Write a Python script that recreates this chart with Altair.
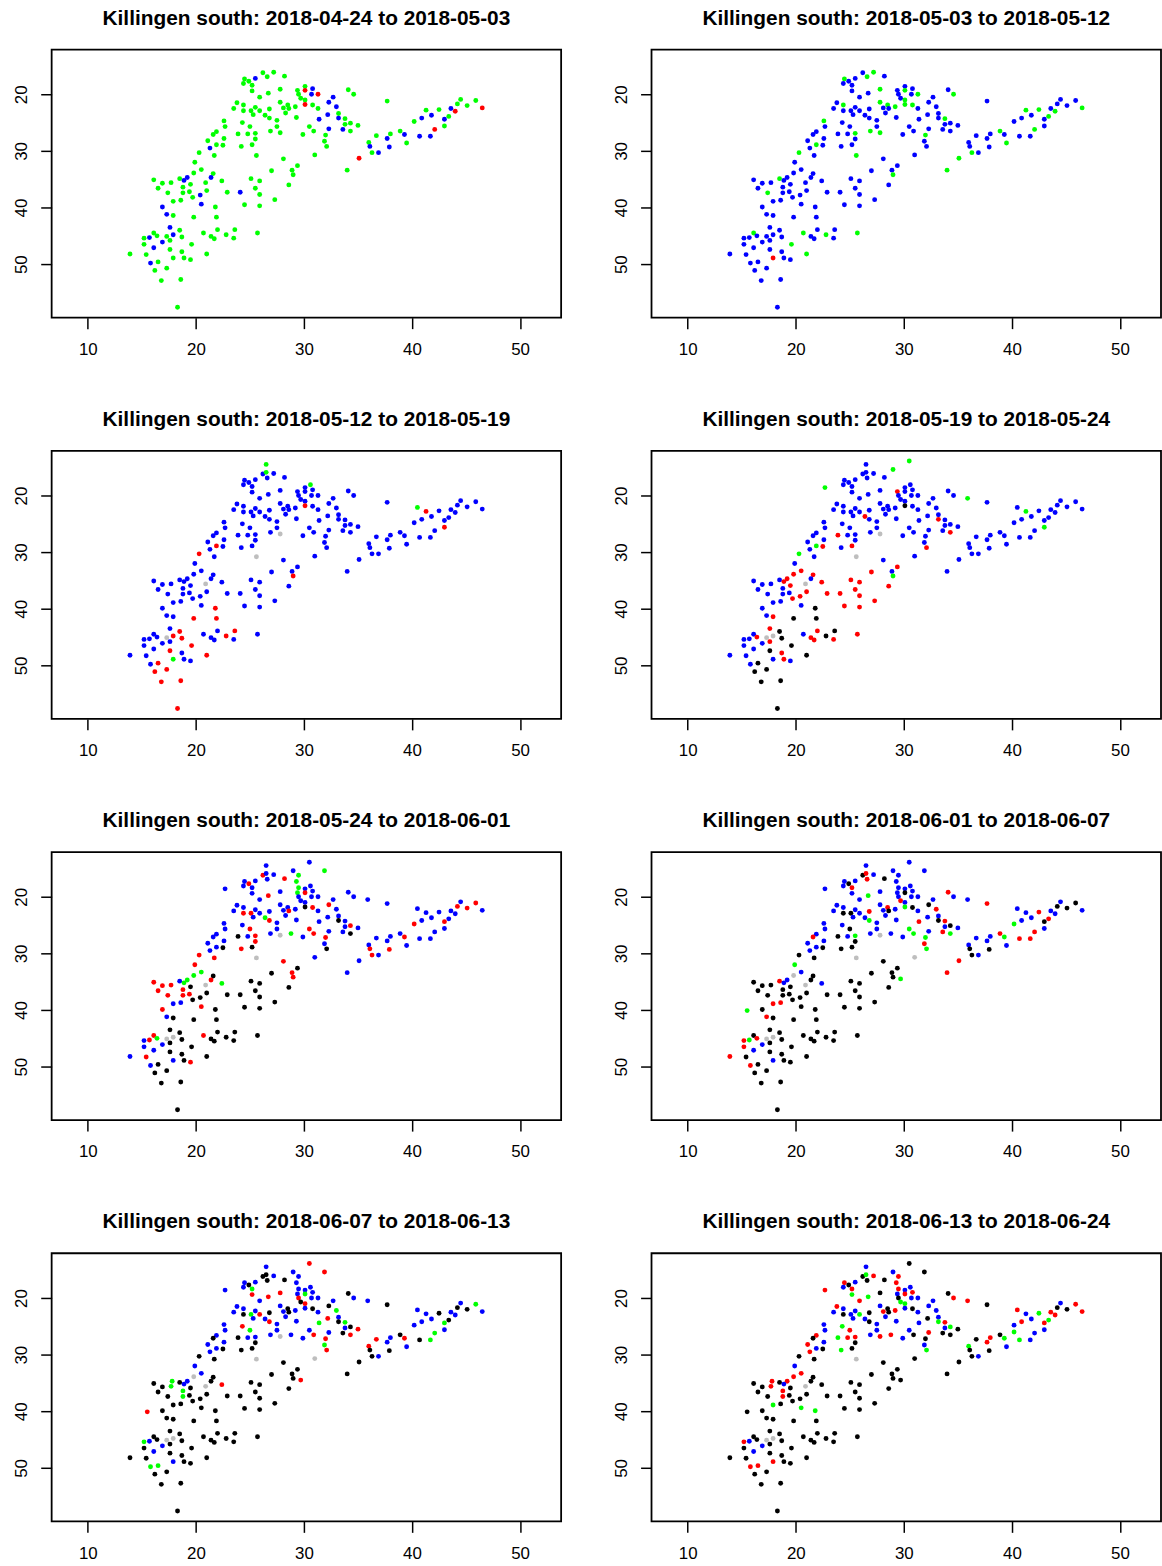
import altair as alt
import pandas as pd

# Point positions (x = column position, y = row position), union of all dates
X = [
    26.2, 27.2, 28.2, 24.5, 25.5, 26.6, 24.9, 24.4, 25.2, 25.2,
    27.8, 26.7, 25.9, 29.4, 30.1, 30.1, 30.8, 29.5, 29.7, 30.7,
    31.3, 34.1, 34.6, 32.7, 30.1, 27.8, 32.3, 23.8, 24.4, 28.5,
    29.2, 30.1, 30.8, 28.1, 28.6, 23.5, 24.4, 25.1, 25.5, 25.9,
    25.3, 26.8, 31.3, 33.0, 28.3, 26.4, 26.8, 29.3, 32.2, 33.2,
    33.2, 33.8, 31.4, 27.5, 22.6, 24.3, 25.0, 22.7, 27.5, 30.5,
    33.8, 34.3, 35.0, 32.3, 33.6, 34.3, 30.9, 21.9, 21.6, 23.9,
    24.8, 25.5, 26.9, 27.8, 29.9, 32.0, 22.6, 25.5, 21.1, 21.9,
    22.5, 24.2, 25.2, 21.3, 31.9, 32.1, 20.3, 21.7, 25.6, 31.0,
    28.1, 35.1, 34.0, 29.4, 28.9, 29.0, 27.0, 28.6, 19.9, 20.5,
    19.8, 21.6, 21.4, 19.2, 18.5, 18.9, 16.1, 16.9, 17.7, 19.5,
    20.9, 22.4, 25.1, 25.9, 16.5, 18.8, 17.4, 18.8, 19.4, 21.0,
    22.9, 24.1, 25.5, 25.9, 19.7, 20.4, 17.9, 18.6, 27.3, 20.5,
    24.5, 25.9, 16.9, 21.8, 17.3, 17.9, 19.8, 21.9, 17.6, 18.5,
    22.0, 23.6, 16.1, 20.7, 22.8, 25.7, 15.2, 15.7, 16.4, 17.3,
    17.9, 18.7, 21.4, 21.7, 23.5, 17.6, 16.9, 15.2, 19.6, 16.1,
    17.6, 13.9, 15.4, 18.7, 21.0, 17.9, 18.9, 19.5, 15.8, 16.5,
    17.3, 16.2, 16.8, 18.6, 18.3, 37.7, 41.3, 42.5, 43.6, 44.5,
    44.2, 45.1, 45.9, 46.5, 44.0, 43.4, 43.0, 41.8, 40.9, 40.2,
    43.0, 42.1, 38.9, 38.0, 37.7, 39.3, 40.7, 41.7, 36.7, 36.0,
    36.1, 37.9, 39.5, 36.3, 36.9,
    26.5, 26.5, 30.6, 30.5, 31.9, 29.0, 29.5, 29.3, 22.7, 35.9,
    40.5, 29.5, 15.5, 29.7, 17.8, 28.8, 40.2,
]
Y = [
    16.2, 16.1, 16.8, 17.3, 17.2, 16.9, 17.7, 18.1, 18.4, 19.4,
    19.1, 19.8, 20.5, 19.3, 18.6, 19.3, 19.0, 20.0, 20.7, 20.0,
    20.0, 19.2, 20.0, 20.5, 21.0, 21.4, 21.4, 21.5, 21.9, 21.9,
    22.2, 21.8, 21.9, 22.4, 22.5, 22.5, 22.9, 22.9, 22.3, 22.9,
    23.6, 22.6, 22.5, 22.2, 23.3, 23.7, 24.2, 24.1, 23.6, 23.4,
    24.2, 24.3, 24.4, 24.6, 24.7, 25.0, 25.7, 25.7, 25.7, 25.7,
    25.3, 25.1, 25.5, 26.1, 26.2, 26.5, 26.5, 26.6, 27.1, 27.0,
    27.0, 26.9, 26.5, 26.8, 27.1, 27.2, 27.8, 27.9, 28.2, 28.9,
    29.0, 29.2, 28.9, 29.5, 28.3, 29.2, 30.3, 30.8, 30.8, 30.7,
    31.4, 31.3, 33.4, 32.6, 33.4, 34.2, 33.5, 36.0, 32.0, 33.3,
    33.9, 34.0, 34.7, 34.7, 34.9, 35.2, 35.1, 35.7, 35.6, 35.9,
    35.6, 35.3, 34.9, 35.3, 36.6, 36.4, 37.4, 37.4, 37.2, 37.0,
    37.3, 37.3, 36.6, 37.7, 38.2, 37.8, 38.9, 38.7, 38.6, 39.4,
    39.5, 39.7, 39.9, 39.9, 41.2, 41.4, 41.7, 41.7, 43.5, 44.0,
    43.9, 43.9, 44.5, 44.5, 44.8, 44.5, 45.4, 45.3, 45.0, 45.1,
    44.8, 45.2, 45.1, 45.5, 45.4, 45.8, 46.1, 46.5, 46.5, 47.1,
    47.4, 48.2, 48.3, 47.8, 48.2, 48.9, 48.9, 49.2, 49.8, 49.6,
    50.7, 51.1, 52.9, 52.7, 57.6, 21.2, 22.8, 22.7, 22.5, 20.9,
    21.7, 22.0, 21.1, 22.4, 23.0, 23.9, 24.4, 23.7, 24.2, 24.8,
    25.6, 26.2, 26.5, 27.0, 27.8, 27.1, 27.4, 27.4, 27.3, 28.5,
    29.2, 29.3, 28.6, 30.3, 30.3,
    14.5, 15.9, 18.1, 13.9, 15.4, 15.4, 16.2, 17.3, 18.6, 20.5,
    22.1, 18.4, 40.1, 34.5, 34.7, 26.5, 26.0,
]

TITLES = [
    "Killingen south: 2018-04-24 to 2018-05-03",
    "Killingen south: 2018-05-03 to 2018-05-12",
    "Killingen south: 2018-05-12 to 2018-05-19",
    "Killingen south: 2018-05-19 to 2018-05-24",
    "Killingen south: 2018-05-24 to 2018-06-01",
    "Killingen south: 2018-06-01 to 2018-06-07",
    "Killingen south: 2018-06-07 to 2018-06-13",
    "Killingen south: 2018-06-13 to 2018-06-24",
]

# status per point per period: g=green, b=blue, r=red, k=black, s=gray, .=absent
P1 = ("ggggbggggg" "gggggrbggb" "rggbggbggg" "grgggggggg" "gggbggggbg"
      "bgbggggggg" "gggbbggggg" "gggggggggg" "gggbgggggg" "grgggggggg"
      "ggbbgbgggg" "gggggggggg" "gbgggbgggb" "ggbgbgggbg" "gggggggbgg"
      "bgggggbggb" "ggggggggbg" "ggggggggbg" "gggrrgbbbg" "grggbbbbgg"
      "bbggb" ".................")
P2 = ("bgbgbgbbbb" "gbbbbgbbbb" "gbgbggbbgg" "gggbbbbbbb" "bbbbbbbbbb"
      "bgbbgbbbbb" "bbbbbbbbbb" "bgggbgbbbg" "bbbbbbgbgb" "bggbbgbbbb"
      "bbbbgbbbbb" "bbbbbbgbbb" "bbbbbbbbbb" "bbbbbbbbbb" "bbggggbbbb"
      "bbbbbbbbgb" "bbbbgrbbbb" "bbbbbbggbb" "bbbgggbbbb" "bggbbbbbbb"
      "bbggb" ".................")
P3 = ("bbbbbbbbbb" "bbbbbbbbbb" "bbbbbbbbbb" "brbbbbbbbb" "bbbbbbbbbb"
      "bbbbbbbbbb" "bbbbbbbbbb" "bbbsbbbbbr" "bbbbbbrbsb" "bbbbbrbbbb"
      "bbbbbbbbbb" "sbbbbbbbbb" "bbbbbbbbbb" "bbbrbbrrbr" "brbbrbbbbs"
      "rrbbbbbbrb" "rbbbrgbbbr" "rrrrrbrbbb" "bbbbbbbbbb" "rbbbbbbbbb"
      "bbbbb" "ggg.......g......")
P4 = ("bbbbbbbbbb" "bbbrbbbbbb" "bbbbbbbbbb" "bkbbbbbbbb" "bbbbbrbbbb"
      "rbbbbbbbbb" "bbbbbrbbbr" "bbbsbbbbbg" "rbrbbrgbsb" "bbbrbgrrbr"
      "rrbrbrbbbr" "srrrbbbbbr" "rrrrrrbbrb" "rrbkbrkkrk" "rkbbkrbbrs"
      "skrrrrbbkb" "kbbrkbrbbk" "kkkkkbgbbb" "bbbbbbbbbb" "gbbbbbbbbb"
      "bbbbb" "bbbg.g..ggb......")
P5 = ("rbrbbbrbbb" "brbgbrbbbb" "bbbbbbrbbb" "bkrbrbrrbb" "bbbbbgrbbb"
      "kbbbbbrbbr" "brbbbkrbbk" "brbsbrbrbb" "krkbbkrrsb" "rbbkrrkkrg"
      "gkrgbgrrrk" "sgkkrrrrrk" "kkkkkkbbkr" "kkrkbkkkkk" "kkrrkkbrgs"
      "skkkkkbbkb" "kbrkkbkrbk" "kkkkkbbbbb" "rrrbbbrbbr" "bbbbbrbbbb"
      "rrbrb" "bbbbgbggbbbg...g.")
P6 = ("kbkbbrkbrb" "bgbbbkbbrb" "brbbbbkbbr" "bgkbkbkkbb" "brbrbbgbbb"
      "krrbbbkbbg" "bkbbrggbrk" "bgbsbgbkbb" "kkkbrgkkss" "krrkkkkkgb"
      "skkbrbkkkk" "sbkkkkkkkk" "kkkkkkrrkk" "kkkkrkkkkk" "kkkkkkrgrs"
      "skkkkkbrkb" "krkkkbkkrk" "kkkkkrbrbb" "kkkbbrkbbg" "brrbbgrrbb"
      "kkbkb" "brbbbbbbbbbbgg.b.")
P7 = ("kbkbbkkbgr" "rrbbbgbrkb" "bkbbrbkbbk" "bbkbkbkgbr" "bkbgbbrbrb"
      "kggbbrgbbb" "bkrbkrrbkk" "bbbsbrbkbb" "kkkbgrkkss" "kkkkkkkkbb"
      "skkbkbkkgk" "srkkkgkgkk" "kkkkkkkkkk" "kkkkkkkkkk" "kkkkkkgbks"
      "skkkkkbkkb" "kkkkkbkkgg" "kkkkkkbkbb" "kkgbbkgbbb" "bgkbbrkgrr"
      "kkbkb" "bkbrrbbbbbbbrrgb.")
P8 = ("krkrbkkbrg" "kgrbbrrkgb" "bkrbgbbrbk" "rbkrkbkbbg" "bkbbbbkbkb"
      "grbbbgrbbb" "bgkrkkkrkg" "rrbrbkbkrb" "kgkrbgkksk" "kkkkkkkkbr"
      "rkkrkbkkrk" "skkkkrkrkk" "kkkkkkgkkg" "kkkgkkkkkk" "kkkkkkrbks"
      "skkkkkbkkb" "kkkkkrkkrr" "kkkkkkbgrb" "kkrrrgrbrb" "bbkrrggbkg"
      "kkbkb" "bgbkkbrrrrrrkkrrg")
PANELS = [P1, P2, P3, P4, P5, P6, P7, P8]

STATUS = ["g", "b", "r", "k", "s"]
COLORS = ["#00FF00", "#0000FF", "#FF0000", "#000000", "#BEBEBE"]

FONT = "Liberation Sans"

charts = []
for title, codes in zip(TITLES, PANELS):
    df = pd.DataFrame({"x": X, "y": Y, "c": list(codes)})
    df = df[df["c"] != "."].reset_index(drop=True)
    df["order"] = range(len(df))
    ch = alt.Chart(df).mark_circle(size=24, opacity=1).encode(
        x=alt.X("x:Q",
                scale=alt.Scale(domain=[6.65, 53.8], nice=False, zero=False),
                axis=alt.Axis(values=[10, 20, 30, 40, 50], title=None,
                              labelPadding=13, labelFlush=False)),
        y=alt.Y("y:Q",
                scale=alt.Scale(domain=[12.1, 59.45], reverse=True, nice=False, zero=False),
                axis=alt.Axis(values=[20, 30, 40, 50], title=None, labelAngle=-90,
                              labelAlign="center", labelBaseline="bottom",
                              labelPadding=10, labelFlush=False)),
        color=alt.Color("c:N", scale=alt.Scale(domain=STATUS, range=COLORS), legend=None),
        order=alt.Order("order:Q"),
    ).properties(
        width=513, height=270,
        title=alt.TitleParams(title, fontSize=21, fontWeight="bold", font=FONT,
                              color="black", anchor="middle", baseline="alphabetic",
                              offset=4),
    )
    charts.append(ch)

chart = alt.concat(*charts, columns=2, spacing={"row": 50, "column": 50}).configure_axis(
    labelFont=FONT, labelFontSize=17, labelColor="black",
    tickColor="black", tickWidth=1.5, tickSize=11,
    domain=False, grid=False,
).configure_view(stroke="black", strokeWidth=1.8).properties(
    padding={"left": 12, "top": 1.5, "right": 0, "bottom": 0},
    background="white",
)

chart.save("out.html", embed_options={"renderer": "svg", "actions": False})
